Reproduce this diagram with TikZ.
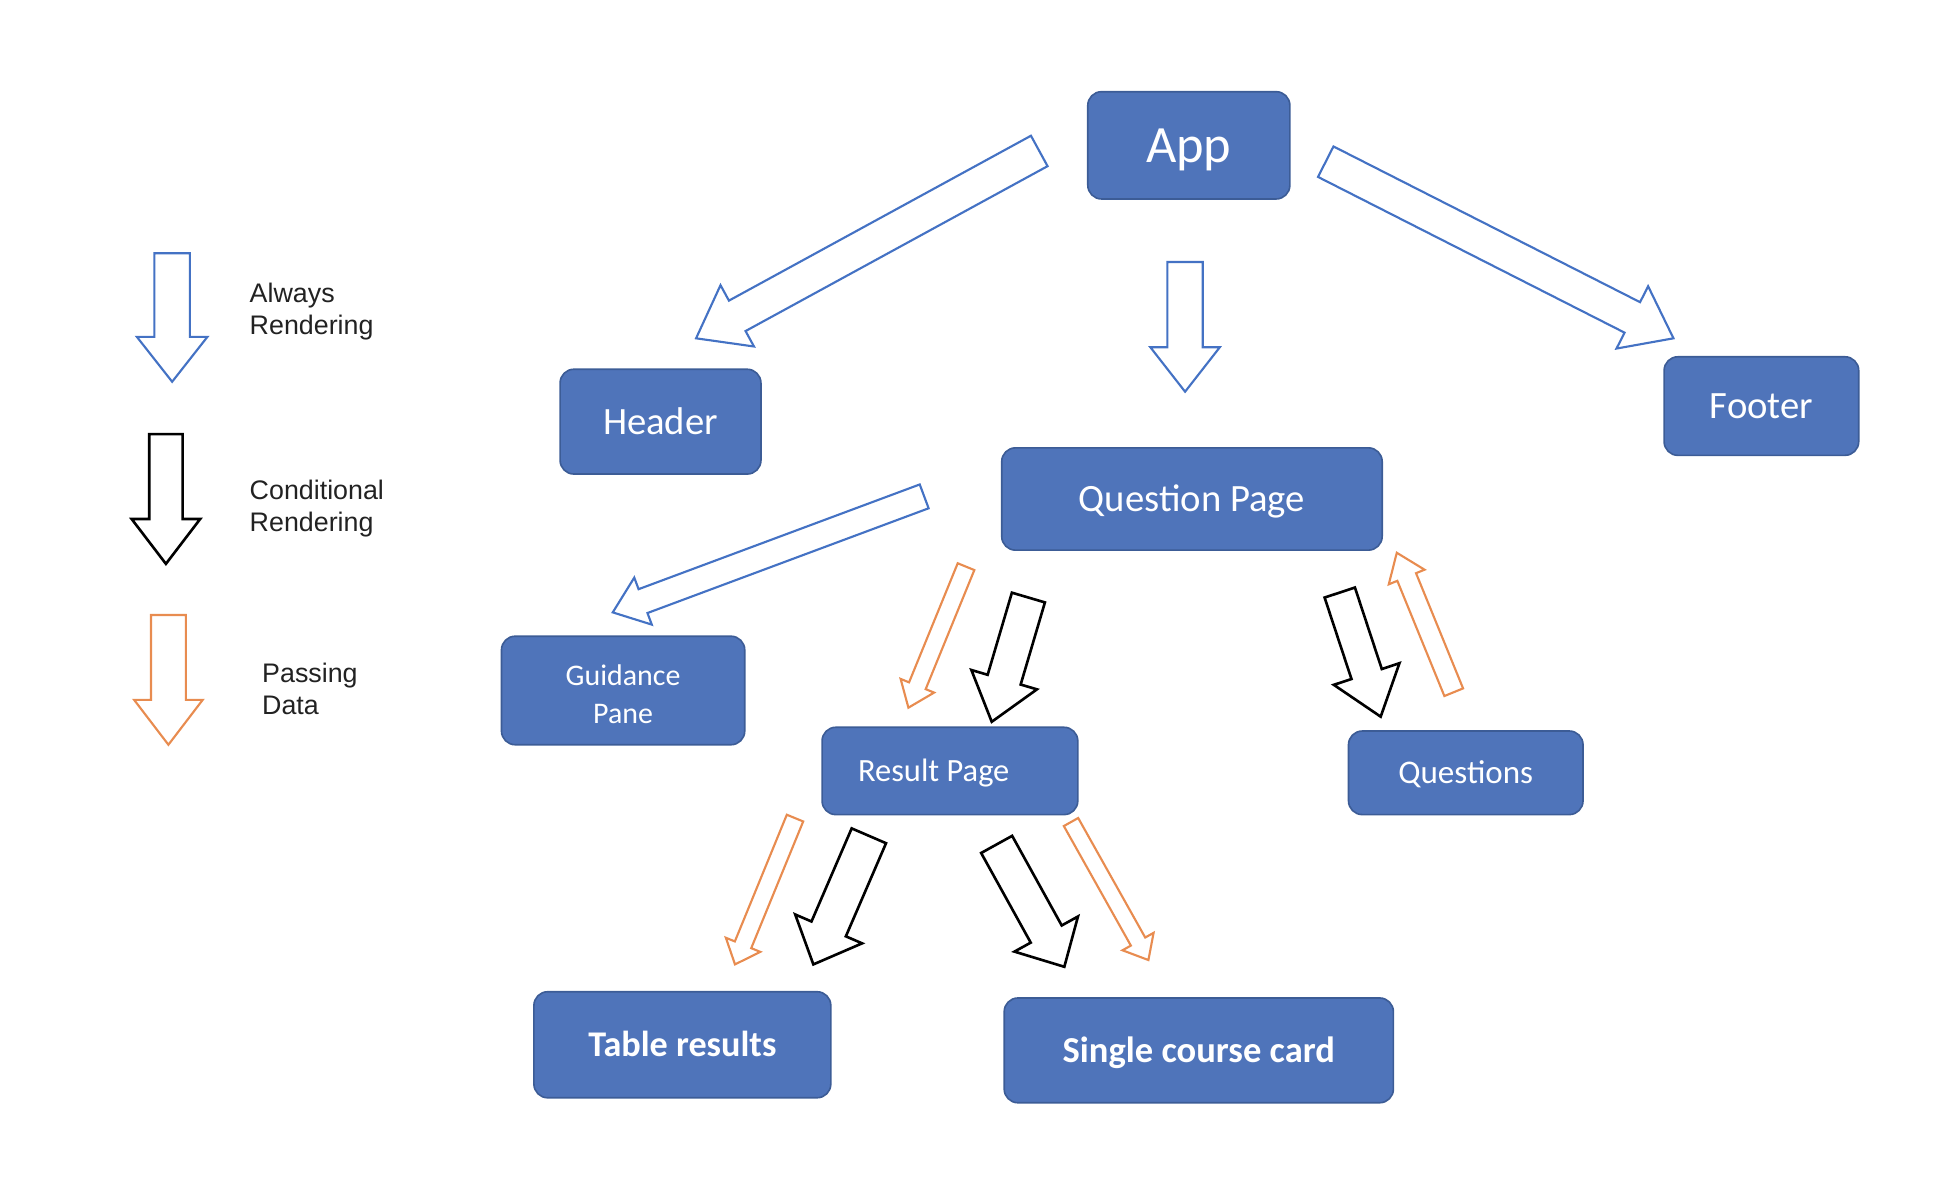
\documentclass[tikz,border=0pt]{standalone}
\usepackage{fontspec}
\setmainfont{Carlito}
\newfontfamily\legendfont{Liberation Sans}
\usetikzlibrary{calc}
\definecolor{boxfill}{RGB}{79,116,186}
\definecolor{boxline}{RGB}{60,92,150}
\definecolor{arrblue}{RGB}{68,114,196}
\definecolor{arrorange}{RGB}{232,140,80}
\definecolor{legtext}{RGB}{34,34,34}
\newcommand\blockarrow[6]{%
  \coordinate (ba-h) at ($(#3)!#6!(#2)$);
  \draw[#1] ($(#2)!#4!90:(#3)$) -- ($(ba-h)!#4!90:(#3)$) -- ($(ba-h)!#5!90:(#3)$) -- (#3)
    -- ($(ba-h)!#5!-90:(#3)$) -- ($(ba-h)!#4!-90:(#3)$) -- ($(#2)!#4!-90:(#3)$) -- cycle;}
\tikzset{
  box/.style={draw=boxline, fill=boxfill, line width=1.3pt, rounded corners=11pt,
    text=white, inner sep=0pt, align=center, text height=#1, text depth=0pt},
  bluearr/.style={draw=arrblue, fill=white, line width=1.7pt, line join=miter},
  blackarr/.style={draw=black, fill=white, line width=2.1pt, line join=miter},
  orangearr/.style={draw=arrorange, fill=white, line width=1.7pt, line join=miter},
  legend/.style={anchor=west, align=left, text=legtext, inner sep=0pt,
    font=\legendfont\fontsize{21.5}{25.5}\selectfont}
}
\begin{document}
\begin{tikzpicture}[x=1pt, y=-1pt]
\useasboundingbox (0,0) rectangle (1568,954);
% boxes
\node[box=27pt, minimum width=162pt, minimum height=86pt, font=\fontsize{42}{48}\selectfont] (app) at (953,116.5) {App};
\node[box=20pt, minimum width=161pt, minimum height=84pt, font=\fontsize{31}{36}\selectfont] (header) at (529.5,338) {Header};
\node[box=20pt, minimum width=156pt, minimum height=79pt, font=\fontsize{31}{36}\selectfont] (footer) at (1412,325.5) {Footer};
\node[box=20pt, minimum width=305pt, minimum height=82pt, font=\fontsize{31}{36}\selectfont] (qp) at (955.5,400) {Question Page};
\node[box=52.5pt, minimum width=195pt, minimum height=87pt, font=\fontsize{24}{30.5}\selectfont] (guid) at (499.5,553.5) {Guidance\\Pane};
\node[box=16.7pt, minimum width=205pt, minimum height=70pt, font=\fontsize{26}{30}\selectfont] (result) at (761.5,618) {\hspace*{-26pt}Result Page};
\node[box=17pt, minimum width=188pt, minimum height=67pt, font=\fontsize{26.5}{30}\selectfont] (quest) at (1175,619.5) {Questions};
\node[box=18.7pt, minimum width=238pt, minimum height=85pt, font=\bfseries\fontsize{29}{34}\selectfont] (table) at (547,837.5) {Table results};
\node[box=18.9pt, minimum width=312pt, minimum height=84pt, font=\bfseries\fontsize{29.3}{34}\selectfont] (single) at (961,842) {Single course card};
% legend
\coordinate (lb-t) at (138,203); \coordinate (lb-h) at (138,306);
\coordinate (lk-t) at (133,348); \coordinate (lk-h) at (133,452);
\coordinate (lo-t) at (135,493); \coordinate (lo-h) at (135,597);
\blockarrow{bluearr}{lb-t}{lb-h}{14.2pt}{28.3pt}{36pt}
\blockarrow{blackarr}{lk-t}{lk-h}{13.4pt}{27.5pt}{36pt}
\blockarrow{orangearr}{lo-t}{lo-h}{14pt}{27.5pt}{36pt}
\node[legend] (lt1) at (200,250) {Always\\Rendering};
\node[legend] (lt2) at (200,407.5) {Conditional\\Rendering};
\node[legend] (lt3) at (210,552) {Passing\\Data};
% connectors (block arrows)
\coordinate (a1-t) at (833.1,121.0); \coordinate (a1-h) at (558,271.2);
\blockarrow{bluearr}{a1-t}{a1-h}{13.9pt}{28pt}{37.6pt}
\coordinate (a2-t) at (950,210); \coordinate (a2-h) at (950,314);
\blockarrow{bluearr}{a2-t}{a2-h}{14.2pt}{27.8pt}{35.6pt}
\coordinate (a3-t) at (1062.75,129.6); \coordinate (a3-h) at (1341.5,271.2);
\blockarrow{bluearr}{a3-t}{a3-h}{13.7pt}{28pt}{37pt}
\coordinate (a4-t) at (740.85,397.9); \coordinate (a4-h) at (491.2,490.9);
\blockarrow{bluearr}{a4-t}{a4-h}{10.2pt}{20.1pt}{25.9pt}
\coordinate (a5-t) at (774.4,454.25); \coordinate (a5-h) at (728.2,567.3);
\blockarrow{orangearr}{a5-t}{a5-h}{7.2pt}{14.5pt}{19pt}
\coordinate (a6-t) at (824.4,479); \coordinate (a6-h) at (795,578.6);
\blockarrow{blackarr}{a6-t}{a6-h}{13.8pt}{27.4pt}{35.2pt}
\coordinate (a7-t) at (1074,475); \coordinate (a7-h) at (1106.8,574.5);
\blockarrow{blackarr}{a7-t}{a7-h}{12.8pt}{27.7pt}{36pt}
\coordinate (a8-t) at (1165.35,554.9); \coordinate (a8-h) at (1119.7,443.1);
\blockarrow{orangearr}{a8-t}{a8-h}{8.1pt}{15.5pt}{21pt}
\coordinate (a9-t) at (637.3,655.8); \coordinate (a9-h) at (589.2,773.1);
\blockarrow{orangearr}{a9-t}{a9-h}{7.1pt}{14.9pt}{17pt}
\coordinate (a10-t) at (696.5,670); \coordinate (a10-h) at (652,773.1);
\blockarrow{blackarr}{a10-t}{a10-h}{15pt}{29.2pt}{31pt}
\coordinate (a11-t) at (798.95,676.9); \coordinate (a11-h) at (853.2,775);
\blockarrow{blackarr}{a11-t}{a11-h}{14.2pt}{29.1pt}{30pt}
\coordinate (a12-t) at (858.55,658.95); \coordinate (a12-h) at (920.6,769.6);
\blockarrow{orangearr}{a12-t}{a12-h}{6.6pt}{14.3pt}{17pt}
\end{tikzpicture}
\end{document}
